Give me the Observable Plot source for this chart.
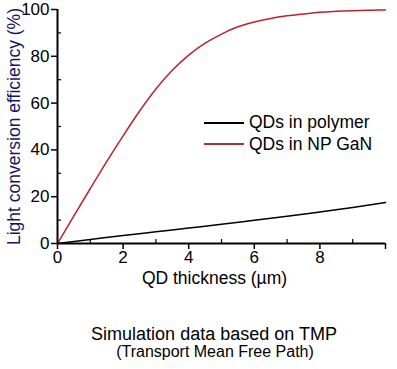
<!DOCTYPE html>
<html><head><meta charset="utf-8">
<script src="https://cdn.jsdelivr.net/npm/d3@7"></script>
<script src="https://cdn.jsdelivr.net/npm/@observablehq/plot@0.6"></script>
<style>
body{margin:0;background:#fff;font-family:"Liberation Sans",Arial,sans-serif;}
#wrap{position:relative;width:397px;height:290px;}
.legend{position:absolute;left:204px;top:112px;font-size:17.5px;color:#000;}
.legend .row{display:flex;align-items:center;height:21.5px;white-space:nowrap;}
.legend .sw{width:40px;height:0;border-top:2px solid;margin-right:5px;}
.cap1{margin-top:33px;font-size:18px;line-height:22px;text-align:center;padding-left:31px;width:366px;color:#000;}
.cap2{margin-top:-2px;font-size:16px;line-height:18px;text-align:center;padding-left:33px;width:364px;color:#000;}
</style></head><body>
<div id="wrap"></div>
<div id="caption"></div>
<script>
// Data
const thickness = [0, 0.5, 1, 1.5, 2, 2.5, 3, 3.5, 4, 4.5, 5, 5.5, 6, 6.5, 7, 7.5, 8, 8.5, 9, 9.5, 10];
const npGaN =     [0, 11.8, 23.5, 35, 46, 56.5, 66, 74, 80.5, 85.6, 89.5, 92.6, 94.7, 96.2, 97.3, 98.1, 98.8, 99.2, 99.5, 99.7, 99.8];
const polymerThickness = [0, 1, 2, 3, 4, 5, 6, 7, 8, 9, 10];
const polymer =          [0, 1.7, 3.4, 5.0, 6.6, 8.2, 9.9, 11.6, 13.5, 15.4, 17.5];
const seriesNames = ["QDs in polymer", "QDs in NP GaN"];
const seriesColors = ["#000000", "#c0202a"];
const legendColors = ["#000000", "#b0303a"];
const xMajor = [0, 2, 4, 6, 8, 10];
const xMinor = [1, 3, 5, 7, 9];
const yMajor = [0, 20, 40, 60, 80, 100];
const yMinor = [10, 30, 50, 70, 90];
const xLabel = "QD thickness (µm)";
const yLabel = "Light conversion efficiency (%)";
const captionLines = ["Simulation data based on TMP", "(Transport Mean Free Path)"];

const rows = [
  ...polymerThickness.map((x, i) => ({x, y: polymer[i], series: seriesNames[0]})),
  ...thickness.map((x, i) => ({x, y: npGaN[i], series: seriesNames[1]}))
];

const chart = Plot.plot({
  width: 397, height: 290,
  marginLeft: 57, marginRight: 12, marginTop: 9, marginBottom: 47,
  style: {fontFamily: "Liberation Sans, Arial, sans-serif", fontSize: "17px", color: "#000", background: "#fff", overflow: "visible"},
  x: {domain: [0, 10], label: null},
  y: {domain: [0, 100], label: null},
  color: {domain: seriesNames, range: seriesColors},
  marks: [
    Plot.line(rows, {x: "x", y: "y", z: "series", stroke: "series", strokeWidth: 1.5, curve: "monotone-x"}),
    Plot.axisY(yMajor, {anchor: "left", tickSize: 6, tickPadding: 2, strokeWidth: 1.5, label: null, fontSize: 17}),
    Plot.axisY(yMinor, {anchor: "left", tickSize: 4, dx: 4, strokeWidth: 1.2, tickFormat: () => "", label: null}),
    Plot.axisX(xMajor, {anchor: "bottom", tickSize: 6, tickPadding: 1, strokeWidth: 1.5, tickFormat: d => d === 10 ? "" : d, label: null, fontSize: 17}),
    Plot.axisX(xMinor, {anchor: "bottom", tickSize: 4, dy: -4, strokeWidth: 1.2, tickFormat: () => "", label: null}),
    Plot.ruleX([0], {strokeWidth: 2}),
    Plot.ruleY([0], {strokeWidth: 2}),
    Plot.text([xLabel], {text: d => d, frameAnchor: "bottom", dy: 35, dx: -7, fontSize: 17.5, lineAnchor: "middle"}),
    Plot.text([yLabel], {text: d => d, frameAnchor: "left", textAnchor: "middle", rotate: -90, dx: -43, fontSize: 17.5, fill: "#16165e", lineAnchor: "middle"})
  ]
});
const wrap = document.getElementById("wrap");
wrap.appendChild(chart);

const legend = document.createElement("div");
legend.className = "legend";
seriesNames.forEach((name, i) => {
  const row = document.createElement("div");
  row.className = "row";
  const sw = document.createElement("span");
  sw.className = "sw";
  sw.style.borderTopColor = legendColors[i];
  const t = document.createElement("span");
  t.textContent = name;
  row.appendChild(sw); row.appendChild(t);
  legend.appendChild(row);
});
wrap.appendChild(legend);

const cap = document.getElementById("caption");
captionLines.forEach((line, i) => {
  const d = document.createElement("div");
  d.className = i === 0 ? "cap1" : "cap2";
  d.textContent = line;
  cap.appendChild(d);
});
</script>
</body></html>
